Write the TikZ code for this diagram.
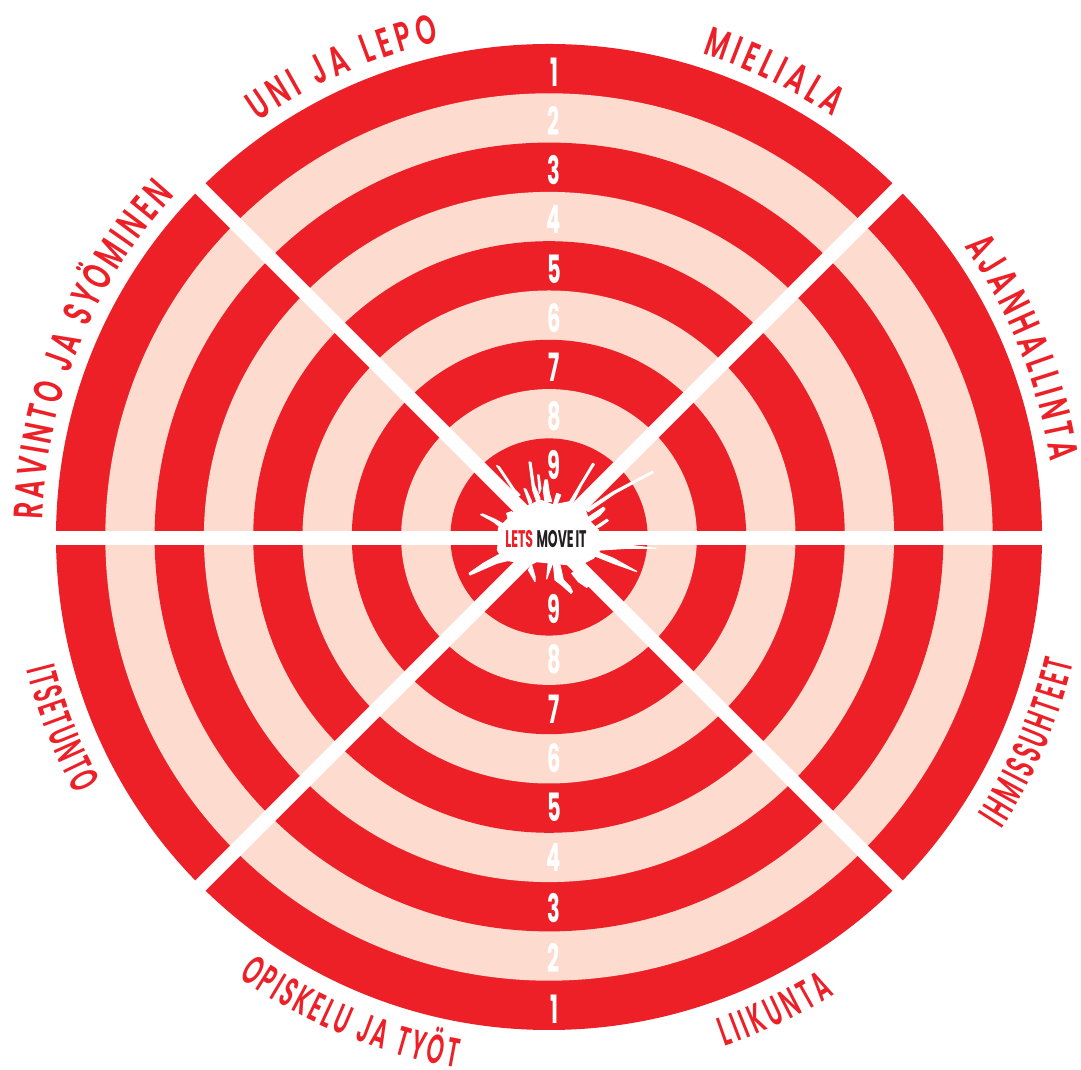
\documentclass[tikz,border=0pt]{standalone}
\usepackage{fontspec}
\usetikzlibrary{decorations.text}
\newfontfamily\lbltop{Poppins SemiBold}[FakeStretch=0.63]
\newfontfamily\lblbot{Poppins SemiBold}[FakeStretch=0.53]
\newfontfamily\digfont{Poppins}[FakeStretch=0.54]
\newfontfamily\logofont{Poppins}[FakeStretch=0.52]
\definecolor{ringred}{HTML}{ED1F27}
\definecolor{ringpink}{HTML}{FDDCCF}
\definecolor{logoblack}{HTML}{231F20}
\tikzset{
  ringnum/.style={text=white,inner sep=0pt,font=\digfont\bfseries\fontsize{39}{39}\selectfont},
  splat/.style={fill=white,draw=white,line width=1.1pt,line join=round},
  sepband/.style={draw=white,line width=14.2pt},
}
\newcommand{\arclabel}[5]{%
  \path[decorate,decoration={text along path,text align={fit to path},
    text={|#1\fontsize{41}{41}\selectfont\color{ringred}|#5}}]
    (C) ++(#3:#2pt) arc[start angle=#3,end angle=#4,radius=#2pt];}
\begin{document}
\begin{tikzpicture}[x=1pt,y=1pt]
\useasboundingbox (0,0) rectangle (1081,1070);
\coordinate (C) at (549,533);
% rings
\foreach \r/\c in {493/ringred,443.7/ringpink,394.4/ringred,345.1/ringpink,295.8/ringred,246.5/ringpink,197.2/ringred,147.9/ringpink,98.6/ringred}
  \fill[\c] (C) circle (\r pt);
% separators
\coordinate (hl) at (50,532.2);
\coordinate (hr) at (1048,532.2);
\coordinate (d1) at ([shift={(45:500pt)}]C);
\coordinate (d2) at ([shift={(135:500pt)}]C);
\coordinate (d3) at ([shift={(225:500pt)}]C);
\coordinate (d4) at ([shift={(315:500pt)}]C);
\draw[sepband] (hl) -- (hr);
\draw[sepband] (d1) -- (d3);
\draw[sepband] (d2) -- (d4);
% splatter, traced in a 3x frame
\begin{scope}[shift={(440,640)},x=0.33333pt,y=-0.33333pt]
\fill[splat] (175,295)--(205,265)--(230,235)--(270,225)--(300,210)--(340,225)--(390,215)--(435,235)--(445,270)--(475,300)--(480,345)--(480,360)--(460,385)--(430,400)--(395,405)--(340,400)--(290,395)--(260,410)--(225,395)--(190,390)--(172,360)--(175,340)--cycle;
\fill[splat] (170,107)--(178,110)--(225,180)--(240,195)--(232,200)--(215,175)--cycle;
\fill[splat] (267,96)--(273,97)--(283,165)--(300,205)--(290,215)--(278,180)--cycle;
\fill[splat] (252,176)--(258,178)--(275,215)--(270,228)--cycle;
\fill[splat] (293,135)--(297,135)--(303,175)--(298,190)--cycle;
\fill[splat] (315,150)--(322,150)--(328,190)--(335,215)--(315,215)--(310,180)--cycle;
\fill[splat] (458,100)--(463,103)--(425,165)--(400,215)--(385,222)--cycle;
\fill[splat] (350,190)--(362,195)--(350,225)--(340,225)--cycle;
\fill[splat] (637,124)--(640,128)--(525,190)--(445,245)--(438,238)--(520,185)--cycle;
\fill[splat] (490,232)--(495,237)--(480,255)--(450,275)--(440,265)--cycle;
\fill[splat] (500,268)--(505,272)--(480,290)--(455,298)--cycle;
\fill[splat] (480,342)--(560,345)--(648,355)--(560,355)--(480,360)--cycle;
\fill[splat] (588,423)--(590,425)--(520,400)--(465,378)--(470,365)--(520,385)--cycle;
\fill[splat] (445,468)--(440,472)--(415,455)--(395,430)--(405,425)--cycle;
\fill[splat] (397,485)--(393,490)--(365,465)--(345,450)--(340,400)--(360,405)--(370,450)--(390,470)--cycle;
\fill[splat] (320,447)--(330,420)--(340,395)--(325,395)--cycle;
\fill[splat] (285,455)--(265,420)--(275,405)--(285,440)--cycle;
\fill[splat] (87,430)--(90,435)--(170,400)--(230,385)--(210,365)--(175,375)--(130,400)--cycle;
\fill[splat] (122,254)--(128,252)--(165,268)--(195,285)--(185,295)--(160,275)--cycle;
\fill[splat] (200,250)--(215,245)--(225,260)--(210,285)--cycle;
\end{scope}
% logo
\node[inner sep=0pt,font=\logofont\bfseries\fontsize{24}{24}\selectfont] (logo) at (546,531)
  {\textcolor{ringred}{LETS}\hspace{0.14em}\textcolor{logoblack}{MOVE\hspace{0.08em}IT}};
% ring numbers
\foreach \n/\t/\b in {1/72/1009,2/121/958,3/170/908,4/219/857,5/269/807,6/318/758,7/367/709,8/416/659,9/465/609}{
  \node[ringnum] (up\n) at (554,1070-\t) {\n};
  \node[ringnum] (dn\n) at (554,1070-\b) {\n};
}
% labels
\arclabel{\lbltop}{507}{125}{102.5}{UNI JA LEPO}
\arclabel{\lbltop}{507}{72.4}{56}{MIELIALA}
\arclabel{\lbltop}{507}{35}{8.5}{AJANHALLINTA}
\arclabel{\lbltop}{507}{178}{137.6}{RAVINTO JA SYÖMINEN}
\arclabel{\lblbot}{539}{194.2}{208.6}{ITSETUNTO}
\arclabel{\lblbot}{539}{234.8}{260.1}{OPISKELU JA TYÖT}
\arclabel{\lblbot}{539}{289}{302}{LIIKUNTA}
\arclabel{\lblbot}{539}{327.1}{346.6}{IHMISSUHTEET}
\end{tikzpicture}
\end{document}
